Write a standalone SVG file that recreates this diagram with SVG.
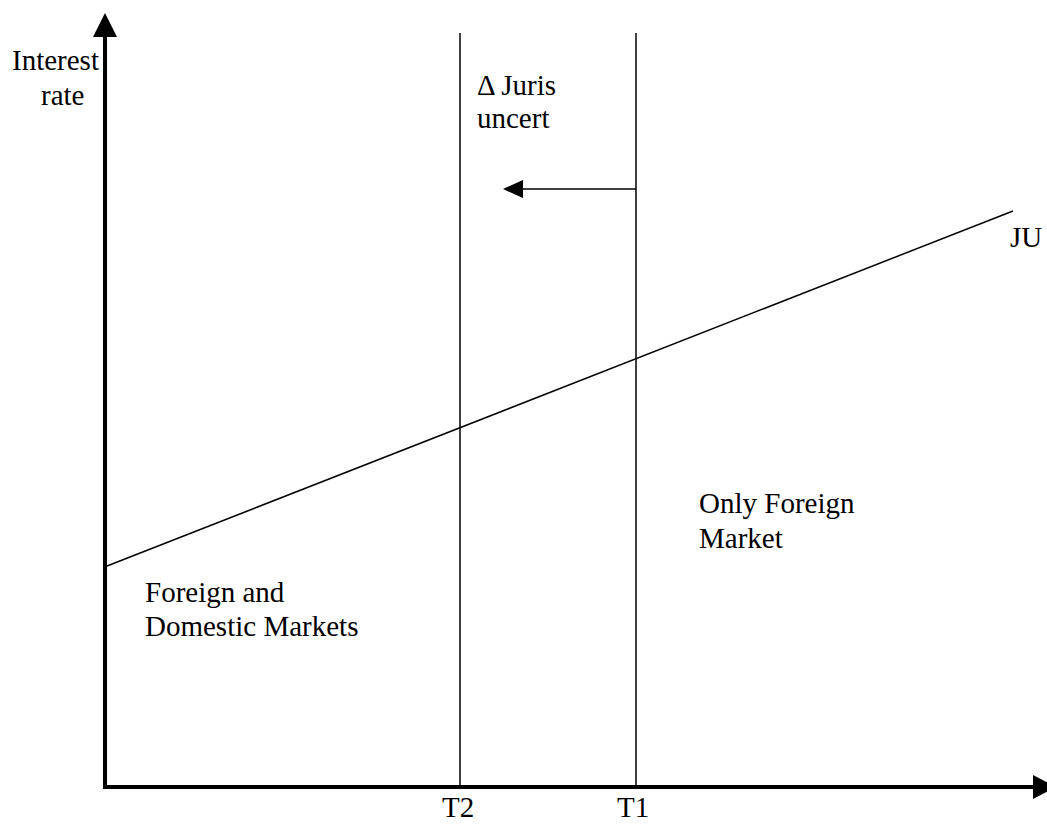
<svg xmlns="http://www.w3.org/2000/svg" width="1047" height="824" viewBox="0 0 1047 824">
<style>
text{font-family:"Liberation Serif","Times New Roman",serif;font-size:29px;fill:#000}
.axis{stroke:#000;stroke-width:4;fill:none}
.thin{stroke:#000;stroke-width:1.5;fill:none}
</style>
<rect width="1047" height="824" fill="#fff"/>
<g id="connectors">
<path class="axis" d="M105,788 V34"/>
<polygon points="105,13 93,37 117,37"/>
<path class="axis" d="M103,787 H1036"/>
<polygon points="1056,787 1033,775 1033,799"/>
<path class="thin" d="M460,33 V787"/>
<path class="thin" d="M636,33 V787"/>
<path class="thin" d="M107,566 L1013,211"/>
<path class="thin" d="M636,189 H520"/>
<polygon points="503,189 523,180 523,198"/>
</g>
<g id="y-label"><text x="12" y="70">Interest</text><text x="41" y="105">rate</text></g>
<g id="delta-label"><text x="477" y="95">Δ Juris</text><text x="477" y="128">uncert</text></g>
<g id="ju-label"><text x="1010" y="247">JU</text></g>
<g id="only-foreign"><text x="699" y="513">Only Foreign</text><text x="699" y="548">Market</text></g>
<g id="foreign-domestic"><text x="145" y="602">Foreign and</text><text x="145" y="636">Domestic Markets</text></g>
<g id="t2"><text x="442" y="817">T2</text></g>
<g id="t1"><text x="617" y="817">T1</text></g>
</svg>
